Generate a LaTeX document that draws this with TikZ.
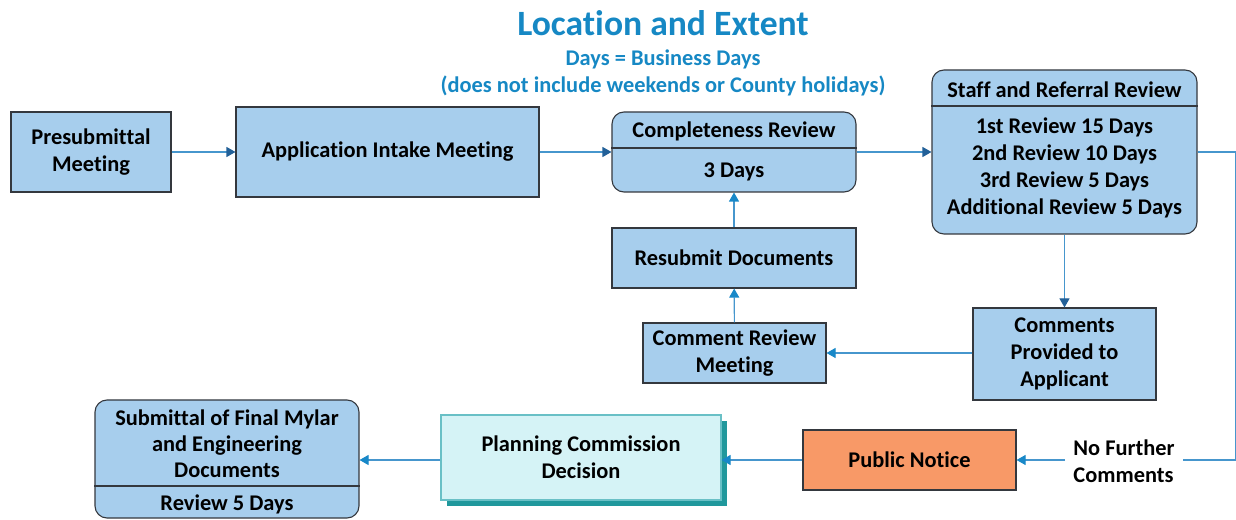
\documentclass[tikz,border=0pt]{standalone}
\usepackage{fontspec}
\setmainfont{Carlito}[Ligatures=NoCommon]
\usetikzlibrary{arrows.meta,positioning,calc}
\definecolor{boxfill}{RGB}{167,206,237}
\definecolor{boxline}{RGB}{52,56,62}
\definecolor{ttlblue}{RGB}{22,136,196}
\definecolor{lnk}{RGB}{70,150,205}
\definecolor{tipdark}{RGB}{34,96,152}
\definecolor{tipcyan}{RGB}{24,136,200}
\definecolor{pubfill}{RGB}{248,153,103}
\definecolor{pcdfill}{RGB}{213,243,246}
\definecolor{pcdline}{RGB}{105,192,198}
\definecolor{pcdshade}{RGB}{32,152,156}
\def\px{0.75pt}
\newcommand{\boxfont}{\fontsize{16.8}{20.25}\selectfont\bfseries}
\tikzset{
  blk/.style={draw=boxline, fill=boxfill, line width=1.1*\px, align=center,
              font=\boxfont, inner sep=0pt},
  rblk/.style={blk, rounded corners=12*\px},
  txt/.style={align=center, font=\boxfont, inner sep=0pt},
  darr/.style={lnk, line width=1.1*\px, -{Triangle[length=9*\px, width=10*\px, color=tipdark]}},
  carr/.style={lnk, line width=1.1*\px, -{Triangle[length=9*\px, width=10*\px, color=tipcyan]}},
  plain/.style={lnk, line width=1.1*\px},
}
\begin{document}
\begin{tikzpicture}[x=\px, y=-\px]
  \useasboundingbox (0,0) rectangle (1236,520);
  % heading
  \node[text=ttlblue, font=\fontsize{26.7}{30}\selectfont\bfseries] (ttl) at (663,23) {Location and Extent};
  \node[text=ttlblue, txt] (sub) at (663,73)
    {Days = Business Days\\(does not include weekends or County holidays)};
  % top row
  \node[blk, minimum width=160*\px, minimum height=80*\px] (pre) at (91,152) {Presubmittal\\Meeting};
  \node[blk, minimum width=303*\px, minimum height=90*\px] (intake) at (387.5,152) {Application Intake Meeting};
  \node[rblk, minimum width=244*\px, minimum height=80*\px] (compl) at (734,152) {};
  \draw[boxline, line width=1.1*\px] (compl.west |- 0,148) -- (compl.east |- 0,148);
  \node[txt] (complhd) at (734,131.5) {Completeness Review};
  \node[txt] (compldays) at (734,171.5) {3 Days};
  \node[rblk, minimum width=265*\px, minimum height=164*\px] (staff) at (1064.5,152) {};
  \draw[boxline, line width=1.1*\px] (staff.west |- 0,106) -- (staff.east |- 0,106);
  \node[txt] (staffhd) at (1064.5,89.5) {Staff and Referral Review};
  \node[txt] (staffdays) at (1064.5,168)
    {1st Review 15 Days\\2nd Review 10 Days\\3rd Review 5 Days\\Additional Review 5 Days};
  % review loop
  \node[blk, minimum width=244*\px, minimum height=60*\px] (resub) at (734,258) {Resubmit Documents};
  \node[blk, minimum width=183*\px, minimum height=60*\px] (crm) at (734.5,353) {Comment Review\\Meeting};
  \node[blk, minimum width=183*\px, minimum height=92*\px] (cpa) at (1064.5,354) {Comments\\Provided to\\Applicant};
  % bottom row
  \node[blk, fill=pubfill, minimum width=213*\px, minimum height=60*\px] (pub) at (909.5,460) {Public Notice};
  \fill[pcdshade] (447,421) rectangle (727,506);
  \node[blk, draw=pcdline, fill=pcdfill, minimum width=280*\px, minimum height=85*\px] (pcd) at (581,457.5)
    {Planning Commission\\Decision};
  \node[rblk, minimum width=264*\px, minimum height=118*\px] (mylar) at (227,459) {};
  \draw[boxline, line width=1.1*\px] (mylar.west |- 0,486) -- (mylar.east |- 0,486);
  \node[txt, font=\fontsize{16.8}{19.5}\selectfont\bfseries] (mylarhd) at (227,443.5)
    {Submittal of Final Mylar\\and Engineering\\Documents};
  \node[txt] (mylardays) at (227,504) {Review 5 Days};
  \node[txt, align=left, inner sep=8*\px] (nfc) at (1124,461) {No Further\\Comments};
  \coordinate (rtop) at (1235.5,152);
  \coordinate (rbot) at (1235.5,460);
  % connectors
  \draw[darr] (pre) -- (intake);
  \draw[darr] (intake) -- (compl);
  \draw[darr] (compl) -- (staff);
  \draw[darr] (staff.south) -- (cpa.north);
  \draw[carr] (cpa.west |- crm.east) -- (crm.east);
  \draw[carr] (crm) -- (resub);
  \draw[carr] (resub) -- (compl);
  \draw[plain] (staff.east) -- (rtop) -- (rbot) -- (nfc.east |- rbot);
  \draw[carr] (nfc.west |- rbot) -- (pub.east);
  \draw[carr] (pub) -- (pcd.east |- pub.west);
  \draw[carr] (pcd.west |- pub.west) -- (mylar.east |- pub.west);
\end{tikzpicture}
\end{document}
